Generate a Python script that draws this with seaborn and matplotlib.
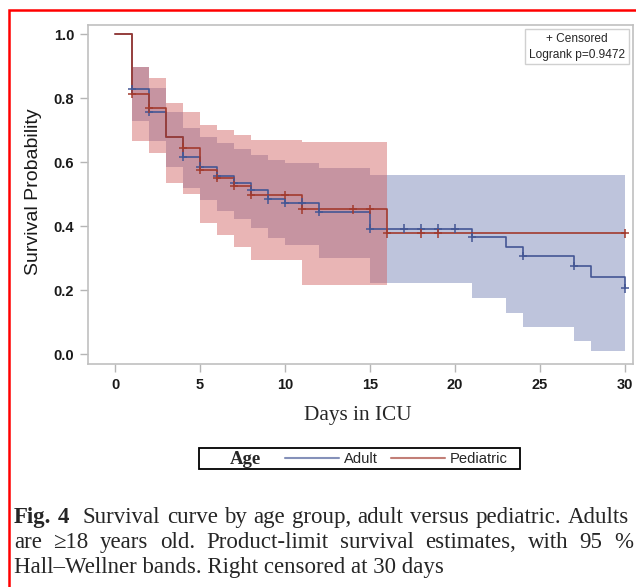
import numpy as np
import pandas as pd
import matplotlib
matplotlib.use("Agg")
import matplotlib.pyplot as plt
import seaborn as sns
from matplotlib.lines import Line2D
from matplotlib.patches import Rectangle

# Kaplan-Meier step values (value holds from day[i] to day[i+1])
adult_days = [0, 1, 2, 3, 4, 5, 6, 7, 8, 9, 10, 12, 15, 21, 23, 24, 27, 28, 30]
adult_surv = [1.0, 0.827, 0.757, 0.677, 0.617, 0.585, 0.556, 0.535, 0.512, 0.484,
              0.473, 0.444, 0.392, 0.365, 0.335, 0.306, 0.275, 0.240, 0.205]
ped_days = [0, 1, 2, 3, 4, 5, 6, 7, 8, 11, 16, 30]
ped_surv = [1.0, 0.8125, 0.768, 0.677, 0.645, 0.575, 0.550, 0.526, 0.497, 0.452, 0.377, 0.377]

# Hall-Wellner bands
adult_band_days = [1, 2, 3, 4, 5, 6, 7, 8, 9, 10, 12, 15, 21, 23, 24, 27, 28, 30]
adult_lower = [0.729, 0.666, 0.585, 0.518, 0.481, 0.447, 0.422, 0.393, 0.362, 0.340,
               0.299, 0.222, 0.176, 0.127, 0.085, 0.042, 0.010, 0.010]
adult_upper = [0.898, 0.832, 0.757, 0.707, 0.679, 0.658, 0.640, 0.622, 0.606, 0.596,
               0.580, 0.559, 0.559, 0.559, 0.559, 0.559, 0.559, 0.559]
ped_band_days = [1, 2, 3, 4, 5, 6, 7, 8, 11, 16]
ped_lower = [0.666, 0.629, 0.533, 0.499, 0.408, 0.372, 0.335, 0.294, 0.216, 0.216]
ped_upper = [0.898, 0.864, 0.785, 0.757, 0.716, 0.700, 0.684, 0.669, 0.664, 0.664]

# Censoring times
adult_censor = [1, 2, 4, 5, 6, 7, 8, 9, 10, 11, 12, 15, 17, 18, 19, 20, 21, 24, 27, 30]
ped_censor = [1, 2, 4, 5, 6, 7, 8, 10, 11, 14, 15, 16, 18, 19, 30]

x_ticks = [0, 5, 10, 15, 20, 25, 30]
y_ticks = [0.0, 0.2, 0.4, 0.6, 0.8, 1.0]

LINE = {"Adult": "#445694", "Pediatric": "#A23A2E"}
FILL = {"Adult": "#6F7EB3", "Pediatric": "#D05B5B"}
SERIF = ["Liberation Serif", "DejaVu Serif"]
CAPTION_SIZE = 16.5

W, H = 636, 587


def fx(px):
    return px / W


def fy(py):
    return 1 - py / H


def step_value(days, surv, t):
    # survival at time t from a right-continuous step function
    return surv[np.searchsorted(days, t, side="right") - 1]


def build_frames():
    curves = pd.concat([
        pd.DataFrame({"group": "Adult", "day": adult_days, "surv": adult_surv}),
        pd.DataFrame({"group": "Pediatric", "day": ped_days, "surv": ped_surv}),
    ], ignore_index=True)
    cens = pd.concat([
        pd.DataFrame({"group": "Adult", "day": adult_censor,
                      "surv": [step_value(adult_days, adult_surv, t) for t in adult_censor]}),
        pd.DataFrame({"group": "Pediatric", "day": ped_censor,
                      "surv": [step_value(ped_days, ped_surv, t) for t in ped_censor]}),
    ], ignore_index=True)
    return curves, cens


def justify_line(fig, words, bold, x0, x1, y, size, extra_gap=None):
    # place words so the line fills x0..x1 exactly
    texts = []
    for w, b in zip(words, bold):
        texts.append(fig.text(0, fy(y), w, fontsize=size, va="baseline", family=SERIF,
                              weight="bold" if b else "normal"))
    fig.canvas.draw()
    r = fig.canvas.get_renderer()
    widths = [t.get_window_extent(r).width for t in texts]
    weights = [1.0] * (len(words) - 1)
    if extra_gap:
        for i, wgt in extra_gap.items():
            weights[i] = wgt
    gap = (x1 - x0 - sum(widths)) / sum(weights)
    x = x0
    for i, t in enumerate(texts):
        t.set_x(fx(x))
        x += widths[i] + (gap * weights[i] if i < len(weights) else 0)


def main():
    sns.set_style("white")
    plt.rcParams["font.family"] = ["Liberation Sans", "DejaVu Sans"]

    curves, cens = build_frames()

    fig = plt.figure(figsize=(W / 100, H / 100), dpi=100)
    ax = fig.add_axes([fx(88), fy(364), (633 - 88) / W, (364 - 25) / H])

    # confidence bands
    ax.fill_between(adult_band_days, adult_lower, adult_upper, step="post",
                    color=FILL["Adult"], alpha=0.45, lw=0)
    ax.fill_between(ped_band_days, ped_lower, ped_upper, step="post",
                    color=FILL["Pediatric"], alpha=0.45, lw=0)

    sns.lineplot(data=curves, x="day", y="surv", hue="group", palette=LINE,
                 hue_order=["Adult", "Pediatric"], drawstyle="steps-post",
                 estimator=None, sort=False, legend=False, lw=1.2, ax=ax)
    sns.scatterplot(data=cens, x="day", y="surv", hue="group", palette=LINE,
                    hue_order=["Adult", "Pediatric"], marker="+", s=40,
                    linewidth=1.1, legend=False, ax=ax, zorder=4)

    ax.set_xlim((88 - 115) / 17, (633 - 115) / 17)
    ax.set_ylim(-10 / 320, 1 + 9 / 320)
    ax.set_xticks(x_ticks)
    ax.set_yticks(y_ticks)
    ax.set_yticklabels([f"{v:.1f}" for v in y_ticks])
    ax.tick_params(axis="both", direction="out", length=6, width=1, color="#b5b5b5",
                   labelsize=10.5, labelcolor="#1a1a1a", pad=4, left=True, bottom=True)
    for lab in ax.get_xticklabels() + ax.get_yticklabels():
        lab.set_fontweight("bold")
    for sp in ax.spines.values():
        sp.set_color("#c0c0c0")
        sp.set_linewidth(1.2)

    ax.set_xlabel("Days in ICU", fontsize=15.3, family=SERIF)
    ax.xaxis.set_label_coords((358 - 88) / 545, (364 - 406) / 339)
    ax.set_ylabel("Survival Probability", fontsize=14, color="#1a1a1a")
    ax.yaxis.set_label_coords((42 - 88) / 545, (364 - 192) / 339)

    ax.text((625 - 88) / 545, (364 - 33) / 339, "+ Censored\nLogrank p=0.9472",
            transform=ax.transAxes, ha="right", va="top", multialignment="center",
            fontsize=8.6, linespacing=1.4,
            bbox=dict(boxstyle="square,pad=0.3", fc="white", ec="#d0d0d0", lw=1))

    # bottom legend: bordered box with "Age" title on the left
    fig.add_artist(Rectangle((fx(199), fy(469)), (520 - 199) / W, 21 / H,
                             transform=fig.transFigure, fill=False, ec="black", lw=1.3))
    fig.text(fx(230), fy(459), "Age", fontsize=13.5, weight="bold", va="center", family=SERIF)
    handles = [Line2D([], [], color=LINE[g], lw=1.5, alpha=0.65) for g in ["Adult", "Pediatric"]]
    fig.legend(handles, ["Adult", "Pediatric"], ncol=2, frameon=False,
               loc="center left", bbox_to_anchor=(fx(285), fy(459)),
               borderpad=0, borderaxespad=0, handlelength=3.7, handletextpad=0.3,
               columnspacing=0.9, fontsize=10.6)

    # caption
    justify_line(fig, ["Fig.", "4", "Survival", "curve", "by", "age", "group,", "adult",
                       "versus", "pediatric.", "Adults"],
                 [True, True] + [False] * 9, 14, 629, 523, CAPTION_SIZE, extra_gap={1: 2.0})
    justify_line(fig, ["are", "\u226518", "years", "old.", "Product-limit", "survival",
                       "estimates,", "with", "95", "%"],
                 [False] * 10, 14, 633, 548, CAPTION_SIZE)
    fig.text(fx(14), fy(573), "Hall\u2013Wellner bands. Right censored at 30 days",
             fontsize=CAPTION_SIZE, va="baseline", family=SERIF)

    # red frame around the figure (clipped at right and bottom)
    fig.add_artist(Rectangle((fx(9), -0.1), 1.0, fy(10) + 0.1, transform=fig.transFigure,
                             fill=False, ec="red", lw=1.8))

    fig.savefig("out.png", dpi=100)
    plt.close(fig)


if __name__ == "__main__":
    main()
